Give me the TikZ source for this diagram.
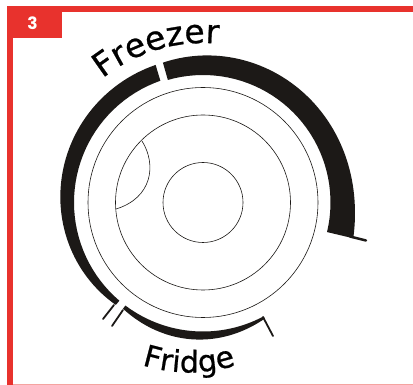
\documentclass[tikz,border=0pt]{standalone}
\usepackage{fontspec}
\setmainfont{Liberation Sans}
\newfontfamily\labfont[FakeBold=0.7]{DejaVu Sans}
\newfontfamily\tagfont{Poppins}
\usetikzlibrary{decorations.text}
\definecolor{redc}{HTML}{E8322D}
\definecolor{ink}{HTML}{1C1917}
\tikzset{
  thinline/.style={draw=ink,line width=0.6pt},
  tick/.style={draw=ink,line width=1.8pt,line cap=round},
  bar/.style={fill=ink,draw=none},
}
\begin{document}
\begin{tikzpicture}[x=1pt,y=-1pt]
\useasboundingbox (0,0) rectangle (413,385);
\fill[white] (0,0) rectangle (413,385);
% frame
\fill[redc] (7,6) rectangle (413,12);
\fill[redc] (7,6) rectangle (13,385);
\fill[redc!45] (13,383.6) rectangle (413,385);
\fill[redc] (7,6) rectangle (62,38);
\node[text=white,font=\tagfont\bfseries\fontsize{17}{17}\selectfont,inner sep=0pt] (num) at (32.5,23) {3};
% circles
\coordinate (c) at (203,202.5);
\draw[thinline] (c) circle [radius=40];
\draw[thinline] (c) circle [radius=87.5];
\draw[thinline] (c) circle [radius=115];
% inner segment
\draw[thinline] (142,141) .. controls (157,165) and (152,198) .. (116,209);
\begin{scope}[shift={(203,202.5)},
  declare function={
    rl(\a)=145.5-11*pow(abs(251-\a)/120.6,2.5);
    rr(\a)=145.5+3.5*(1-pow(abs(13.4-\a)/119.4,4))+5.5*pow(abs(\a+106)/119.4,6);
    rf(\a)=131.5+1.5*(\a-62)/65+5*sin(180*(\a-62)/65);
  }]
% left freezer bar
\fill[bar] plot[domain=251:130.4,samples=60] ({rl(\x)*cos(\x)},{rl(\x)*sin(\x)})
  -- plot[domain=130.4:250.7,samples=40] ({129*cos(\x)},{129*sin(\x)}) -- cycle;
% right freezer bar
\fill[bar] plot[domain=-106:13.4,samples=60] ({rr(\x)*cos(\x)},{rr(\x)*sin(\x)})
  -- plot[domain=13.4:-106,samples=40] ({127.5*cos(\x)},{127.5*sin(\x)}) -- cycle;
% fridge bar
\fill[bar] plot[domain=127:62,samples=40] ({rf(\x)*cos(\x)},{rf(\x)*sin(\x)})
  -- plot[domain=62:127,samples=30] ({129*cos(\x)},{129*sin(\x)}) -- cycle;
\end{scope}
% ticks
\coordinate (t1a) at (114,305); \coordinate (t1b) at (103,319);
\coordinate (t2a) at (123,310); \coordinate (t2b) at (112,326);
\coordinate (t3a) at (263,317); \coordinate (t3b) at (273,336);
\coordinate (t4a) at (350,236.5); \coordinate (t4b) at (366,240.5);
\draw[tick] (t1a) -- (t1b);
\draw[tick] (t2a) -- (t2b);
\draw[tick] (t3a) -- (t3b);
\draw[tick,line width=2.5pt] (t4a) -- (t4b);
% curved labels
\path[decorate,decoration={text along path,text align={fit to path},
  text={|\labfont\fontsize{33}{33}\selectfont|Freezer}}]
  [shift={(203,202.5)}] plot[domain=231:275,samples=30] ({(159.5)*cos(\x)},{(159.5)*sin(\x)});
\path[decorate,decoration={text along path,text align={fit to path},
  text={|\labfont\fontsize{30}{30}\selectfont|Fridge}}]
  (142,365) .. controls (170,374) and (205,376) .. (236,365);
\end{tikzpicture}
\end{document}
